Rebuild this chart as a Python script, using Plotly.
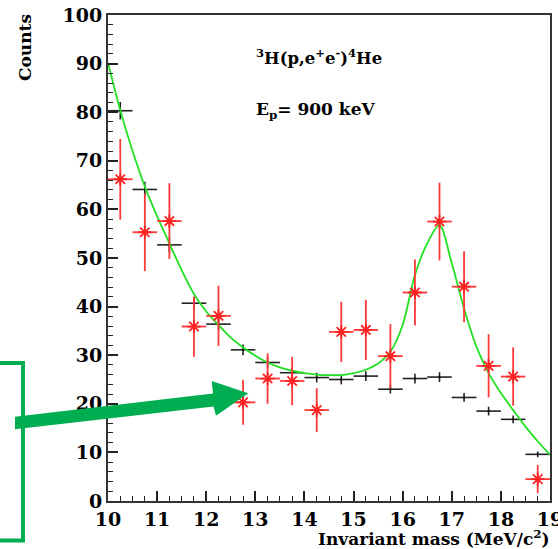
import plotly.graph_objects as go

# ---------------- data ----------------
bin_centers = [10.25, 10.75, 11.25, 11.75, 12.25, 12.75, 13.25, 13.75, 14.25,
               14.75, 15.25, 15.75, 16.25, 16.75, 17.25, 17.75, 18.25, 18.75]
bin_half_width = [0.25] * 18

mc_counts = [80.3, 64.1, 52.7, 40.7, 36.4, 31.1, 28.5, 26.4, 25.4,
             25.0, 25.7, 23.0, 25.2, 25.5, 21.3, 18.5, 16.8, 9.6]
mc_err = [1.8, 1.6, 1.5, 1.3, 1.2, 1.1, 1.1, 1.0, 1.0,
          1.0, 1.0, 0.9, 1.0, 1.0, 0.9, 0.9, 0.8, 0.6]

data_counts = [66.2, 55.3, 57.6, 35.9, 38.1, 20.3, 25.2, 24.7, 18.7,
               34.8, 35.2, 29.8, 42.9, 57.5, 44.1, 27.8, 25.6, 4.5]
data_err = [8.3, 8.0, 7.8, 6.2, 6.2, 4.6, 5.2, 5.0, 4.5,
            6.2, 6.2, 6.6, 6.8, 8.0, 7.3, 6.5, 6.0, 2.9]

fit_x = [10.0, 10.25, 10.5, 10.75, 11.0, 11.25, 11.5, 11.75, 12.0, 12.25, 12.5,
         12.75, 13.0, 13.25, 13.5, 13.75, 14.0, 14.25, 14.5, 14.75, 15.0, 15.25,
         15.5, 15.75, 16.0, 16.25, 16.5, 16.75, 17.0, 17.25, 17.5, 17.75, 18.0,
         18.25, 18.5, 18.75, 19.0]
fit_y = [90.2, 80.4, 72.0, 64.7, 58.6, 53.0, 47.5, 42.6, 39.0, 36.2, 33.6,
         31.6, 29.9, 28.5, 27.5, 26.8, 26.3, 26.0, 25.9, 25.9, 26.3, 27.0,
         28.3, 30.7, 36.2, 46.5, 53.0, 56.8, 48.9, 39.6, 31.8, 26.3, 22.2,
         18.7, 15.3, 12.3, 9.5]

x_ticks = [10, 11, 12, 13, 14, 15, 16, 17, 18, 19]
y_ticks = [0, 10, 20, 30, 40, 50, 60, 70, 80, 90, 100]

# ---------------- layout helpers ----------------
W, H = 558, 549
ML, MR, MT, MB = 108, 8, 15, 48
PW, PH = W - ML - MR, H - MT - MB


def px(xp):
    return (xp - ML) / PW


def py(yp):
    return (H - MB - yp) / PH


FONT = "DejaVu Serif"
GREEN = "#00AD50"

fig = go.Figure()

fig.add_trace(go.Scatter(
    x=bin_centers, y=mc_counts, mode="markers",
    marker=dict(size=2, color="black"),
    error_x=dict(type="data", array=bin_half_width, width=0, thickness=1.6, color="#222"),
    error_y=dict(type="data", array=mc_err, width=0, thickness=1.6, color="#222"),
    showlegend=False, hoverinfo="skip"))

fig.add_trace(go.Scatter(
    x=fit_x, y=fit_y, mode="lines", line=dict(color="#22E022", width=1.8, shape="spline", smoothing=0.8),
    showlegend=False, hoverinfo="skip"))

fig.add_trace(go.Scatter(
    x=bin_centers, y=data_counts, mode="markers",
    marker=dict(symbol="asterisk-open", size=11, color="#FF2020", line=dict(color="#FF2020", width=1.8)),
    error_x=dict(type="data", array=bin_half_width, width=0, thickness=1.8, color="#FF3838"),
    error_y=dict(type="data", array=data_err, width=0, thickness=1.8, color="#FF3838"),
    showlegend=False, hoverinfo="skip"))

axis_common = dict(
    showgrid=False, zeroline=False, showline=True, mirror=True, automargin=False,
    linecolor="#333", linewidth=2, ticks="inside", ticklen=10, tickwidth=1.5,
    tickcolor="#222", ticklabeloverflow="allow",
    tickfont=dict(family=FONT, size=19, color="black", weight="bold"),
)

fig.update_xaxes(range=[10, 19], tickvals=x_ticks, ticktext=[str(v) for v in x_ticks],
                 minor=dict(ticks="inside", ticklen=5, dtick=0.25, tickwidth=1.2, tickcolor="#222"),
                 **axis_common)
fig.update_yaxes(range=[0, 100], tickvals=y_ticks, ticktext=[str(v) for v in y_ticks],
                 minor=dict(ticks="inside", ticklen=5, dtick=2, tickwidth=1.2, tickcolor="#222"),
                 **axis_common)

annotations = [
    dict(text="<sup>3</sup>H(p,e<sup>+</sup>e<sup>-</sup>)<sup>4</sup>He",
         x=px(254), y=py(57), xanchor="left", yanchor="middle",
         font=dict(family=FONT, size=16.5, color="black", weight="bold")),
    dict(text="E<sub>p</sub>= 900 keV",
         x=px(254), y=py(110), xanchor="left", yanchor="middle",
         font=dict(family=FONT, size=17, color="black", weight="bold")),
    dict(text="Counts", textangle=-90,
         x=px(25), y=py(48), xanchor="center", yanchor="middle",
         font=dict(family=FONT, size=17, color="black", weight="bold")),
    dict(text="Invariant mass (MeV/c<sup>2</sup>)",
         x=px(552), y=py(538), xanchor="right", yanchor="middle",
         font=dict(family=FONT, size=17, color="black", weight="bold")),
]
for a in annotations:
    a.update(xref="paper", yref="paper", showarrow=False)

arrow_px = [(15, 416.7), (213, 393.5), (211.7, 381), (248.3, 393.3),
            (216, 415.7), (213.5, 406.5), (15, 429.3)]
path = "M " + " L ".join(f"{px(a):.5f},{py(b):.5f}" for a, b in arrow_px) + " Z"

shapes = [
    dict(type="rect", xref="paper", yref="paper",
         x0=px(-20), x1=px(23), y0=py(540.5), y1=py(363),
         line=dict(color=GREEN, width=4), fillcolor="rgba(0,0,0,0)"),
    dict(type="path", xref="paper", yref="paper", path=path,
         fillcolor=GREEN, line=dict(width=0)),
]

fig.update_layout(
    width=W, height=H,
    margin=dict(l=ML, r=MR, t=MT, b=MB),
    paper_bgcolor="white", plot_bgcolor="white",
    annotations=annotations, shapes=shapes,
    showlegend=False,
)

fig.write_html("out.html")
